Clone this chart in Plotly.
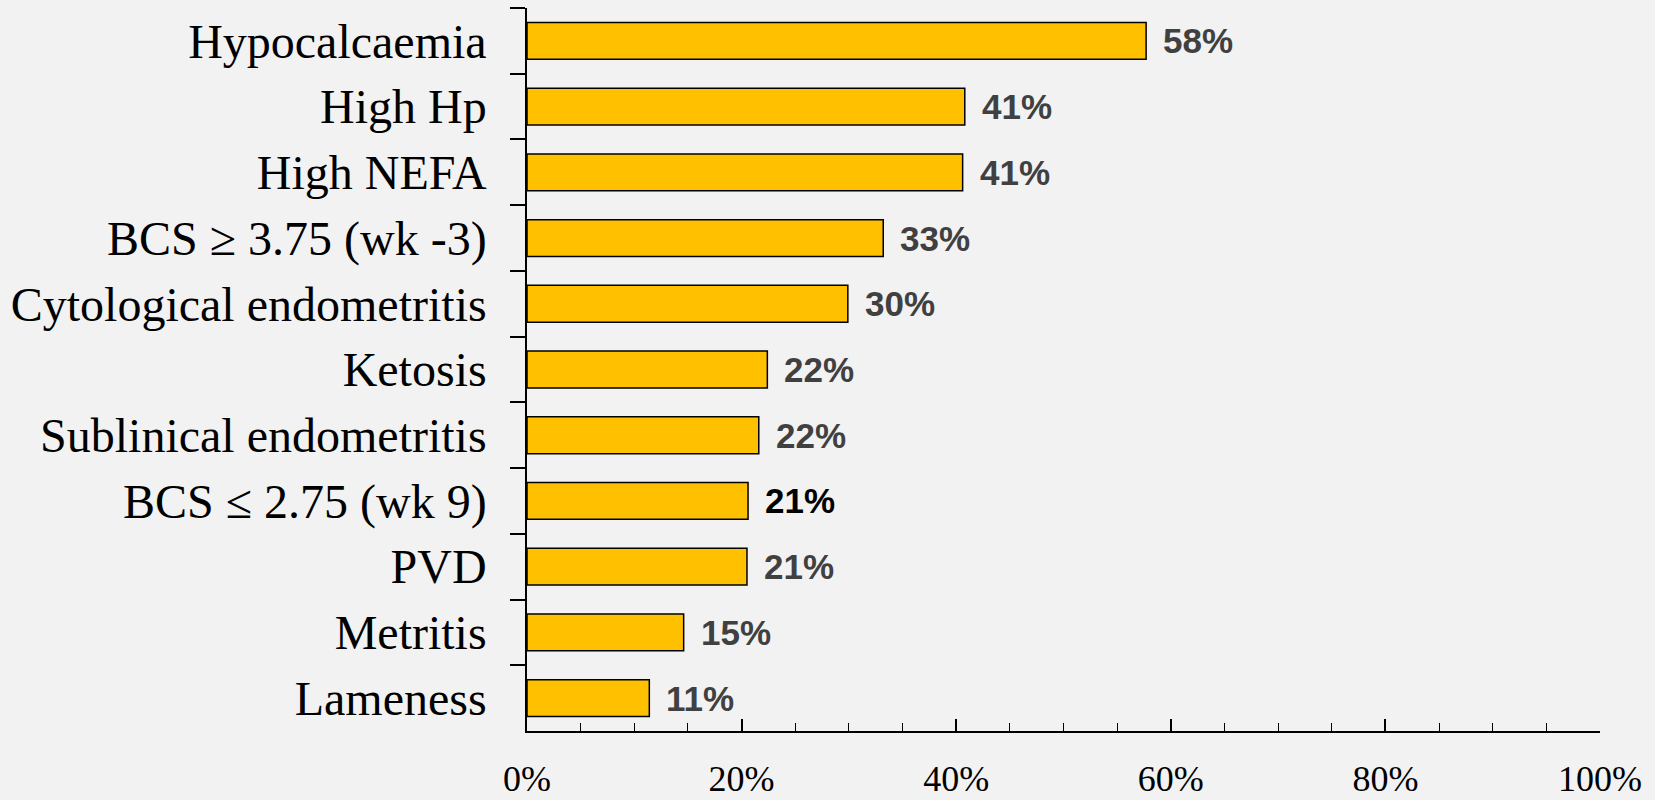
import plotly.graph_objects as go

categories = ["Hypocalcaemia", "High Hp", "High NEFA", "BCS ≥ 3.75 (wk -3)",
              "Cytological endometritis", "Ketosis", "Sublinical endometritis",
              "BCS ≤ 2.75 (wk 9)", "PVD", "Metritis", "Lameness"]
values = [57.7, 40.8, 40.6, 33.2, 29.9, 22.4, 21.6, 20.6, 20.5, 14.6, 11.4]
labels = ["58%", "41%", "41%", "33%", "30%", "22%", "22%", "21%", "21%", "15%", "11%"]
label_colors = ["#404040"] * 7 + ["#000000"] + ["#404040"] * 3
x_ticks = [0, 20, 40, 60, 80, 100]
x_ticklabels = ["0%", "20%", "40%", "60%", "80%", "100%"]

fig = go.Figure()
fig.add_trace(go.Bar(
    y=categories, x=values, orientation="h",
    marker=dict(color="#FFC000", line=dict(color="#000000", width=1.5)),
    hoverinfo="skip",
))

for cat, v, lab, col in zip(categories, values, labels, label_colors):
    fig.add_annotation(
        x=v, y=cat, text=lab, showarrow=False, xanchor="left", yanchor="middle",
        xshift=15, font=dict(family="Liberation Sans, Arial", size=35, color=col, weight="bold"),
    )

fig.update_layout(
    width=1655, height=800,
    paper_bgcolor="#f2f2f2", plot_bgcolor="#f2f2f2",
    margin=dict(l=527, r=55, t=8, b=69, autoexpand=False),
    bargap=0.44,
    showlegend=False,
    xaxis=dict(
        range=[0, 100], tickvals=x_ticks, ticktext=x_ticklabels,
        showgrid=False, zeroline=False, automargin=False,
        showline=True, linecolor="#000000", linewidth=1.5,
        ticks="inside", ticklen=12, tickwidth=1.5, tickcolor="#000000",
        minor=dict(dtick=5, tick0=0, ticks="inside", ticklen=8, tickwidth=1.2, tickcolor="#000000"),
        tickfont=dict(family="Liberation Serif, Times New Roman", size=36, color="#000000"),
        ticklabelstandoff=15,
    ),
    yaxis=dict(
        categoryorder="array", categoryarray=categories, autorange="reversed",
        showgrid=False, zeroline=False, automargin=False,
        showline=True, linecolor="#000000", linewidth=1.5,
        ticks="outside", tickson="boundaries", ticklen=15, tickwidth=1.5, tickcolor="#000000",
        tickfont=dict(family="Liberation Serif, Times New Roman", size=48, color="#000000"),
        ticklabelstandoff=29,
    ),
)

fig.write_html("out.html", config={"displayModeBar": False},
               post_script="document.body.style.margin='0';document.body.style.background='#f2f2f2';")
